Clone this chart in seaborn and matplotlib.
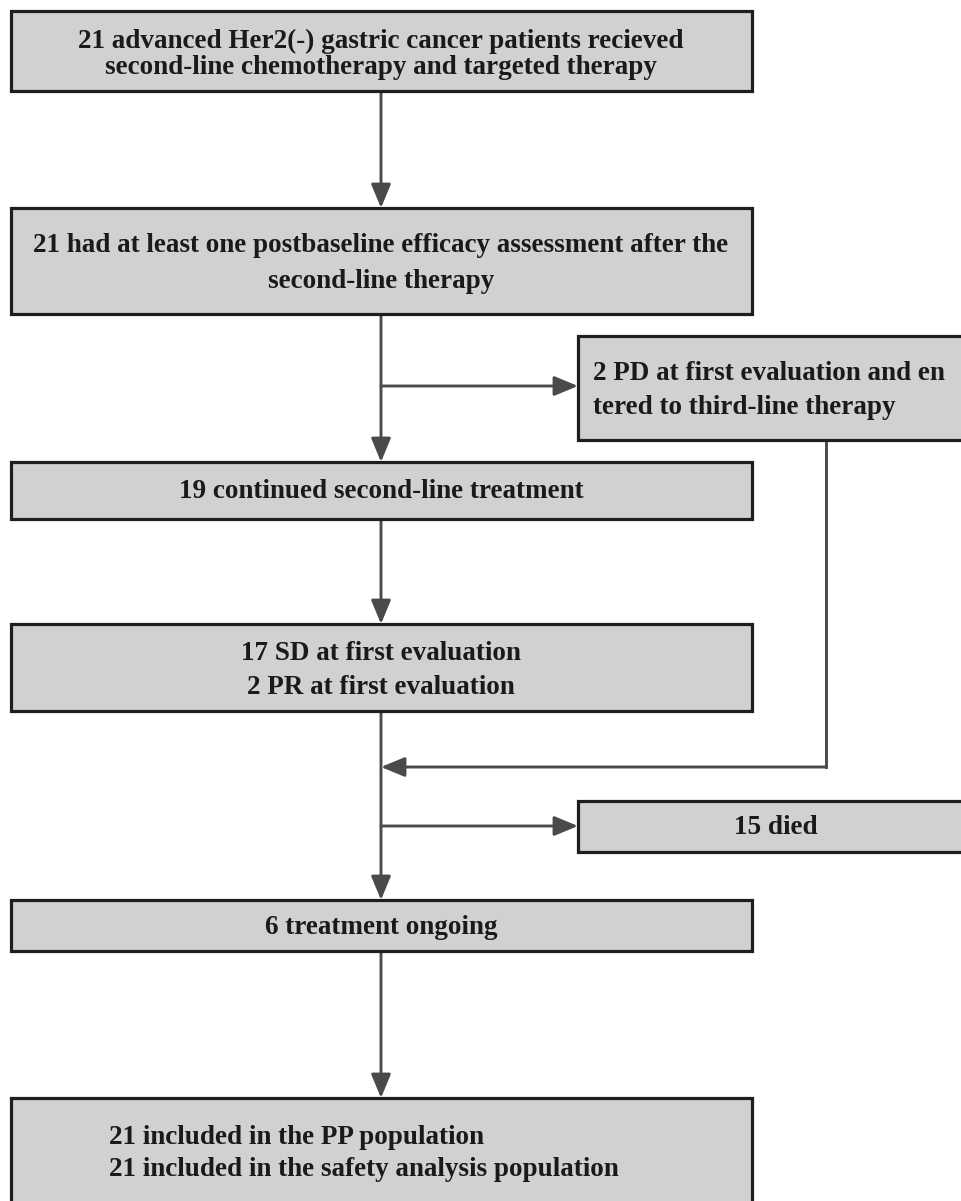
import matplotlib
matplotlib.use("Agg")
import matplotlib.pyplot as plt
import seaborn as sns
from matplotlib.patches import Rectangle, FancyArrowPatch

sns.set_theme(style="white")
plt.rcParams['font.family'] = ['Liberation Serif', 'DejaVu Serif']

# flowchart steps (text of each box)
box_text = [
    ["21 advanced Her2(-) gastric cancer patients recieved",
     "second-line chemotherapy and targeted therapy"],
    ["21 had at least one postbaseline efficacy assessment after the",
     "second-line therapy"],
    ["2 PD at first evaluation and en",
     "tered to third-line therapy"],
    ["19 continued second-line treatment"],
    ["17 SD at first evaluation",
     "2 PR at first evaluation"],
    ["15 died"],
    ["6 treatment ongoing"],
    ["21 included in the PP population",
     "21 included in the safety analysis population"],
]

# layout in pixels: x0, y0, x1, y1
box_pos = [
    (11, 11, 752, 91),
    (11, 208, 752, 314),
    (578, 336, 975, 440),
    (11, 462, 752, 519),
    (11, 624, 752, 711),
    (578, 801, 975, 852),
    (11, 900, 752, 951),
    (11, 1098, 752, 1215),
]
text_y = [
    [41, 68], [245, 281], [374, 408], [491], [654, 688], [827], [928], [1137, 1170],
]
text_align = ['center', 'center', 'left', 'center', 'center', 'center', 'center', 'left']
text_x = [381, 381, 593, 381, 381, 776, 381, 109]

W, H = 962, 1201
fig = plt.figure(figsize=(W / 100, H / 100), dpi=100)
ax = fig.add_axes([0, 0, 1, 1])
ax.set_xlim(0, W)
ax.set_ylim(H, 0)
ax.axis('off')

line_col = '#4a4a4a'
edge_col = '#1e1e1e'
fill_col = '#d1d1d1'

for (x0, y0, x1, y1), lines, ys, ha, tx in zip(box_pos, box_text, text_y, text_align, text_x):
    ax.add_patch(Rectangle((x0, y0), x1 - x0, y1 - y0, facecolor=fill_col,
                           edgecolor=edge_col, linewidth=2.3, zorder=2))
    for s, y in zip(lines, ys):
        ax.text(tx, y, s, ha=ha, va='center', fontsize=19.5, fontweight='bold',
                color='#1a1a1a', zorder=3)


def arrow(p0, p1):
    ax.add_patch(FancyArrowPatch(p0, p1, arrowstyle='-|>,head_length=1.45,head_width=0.6',
                                 mutation_scale=10, color=line_col, linewidth=2.1,
                                 shrinkA=0, shrinkB=0, zorder=1))


def seg(xs, ys):
    ax.plot(xs, ys, color=line_col, linewidth=2.1, solid_capstyle='projecting', zorder=1)


cx = 381
arrow((cx, 91), (cx, 208))
arrow((cx, 314), (cx, 462))
arrow((cx, 386), (578, 386))
arrow((cx, 519), (cx, 624))
arrow((cx, 711), (cx, 900))
seg([826, 826], [440, 767])
arrow((826, 767), (cx, 767))
arrow((cx, 826), (578, 826))
arrow((cx, 951), (cx, 1098))

fig.savefig('out.png', dpi=100)
